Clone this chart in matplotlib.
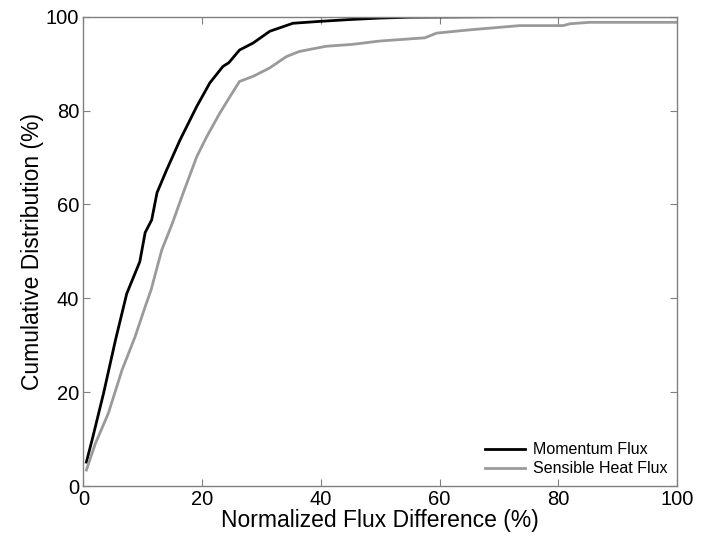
import matplotlib.pyplot as plt

# --- dados ---
momentum_x = [0.5, 1.5, 3.4, 5.4, 7.3, 9.5, 10.4, 11.5, 12.4, 14.0, 16.3, 19.1,
              21.3, 23.5, 24.5, 26.3, 28.6, 31.4, 35.3, 39.8, 45.0, 49.8, 55.0, 70.0, 100.0]
momentum_y = [5.1, 10.0, 19.8, 31.1, 41.0, 47.8, 54.0, 56.7, 62.5, 67.3, 73.8, 80.9,
              85.9, 89.4, 90.2, 92.9, 94.4, 96.9, 98.6, 99.0, 99.4, 99.7, 99.9, 100.0, 100.0]

sensible_x = [0.5, 2.0, 4.2, 6.5, 8.7, 10.4, 11.4, 13.2, 14.9, 16.8, 19.1, 20.8,
              23.0, 24.7, 26.3, 28.6, 31.4, 34.2, 36.4, 40.9, 45.3, 49.8, 57.5, 59.5,
              65.1, 73.5, 80.8, 82.0, 85.3, 100.0]
sensible_y = [3.4, 9.0, 15.5, 24.7, 31.8, 38.2, 41.8, 50.3, 55.7, 62.4, 70.2, 74.5,
              79.5, 83.0, 86.2, 87.3, 89.1, 91.5, 92.6, 93.7, 94.1, 94.8, 95.5, 96.5,
              97.2, 98.1, 98.1, 98.5, 98.8, 98.8]

ticks = [0, 20, 40, 60, 80, 100]
# ------------------------------

plt.rcParams['font.family'] = ['Liberation Sans', 'DejaVu Sans']

fig = plt.figure(figsize=(7.01, 5.42), dpi=100)
ax = fig.add_axes([0.119, 0.1033, 0.8468, 0.8659])

ax.plot(momentum_x, momentum_y, color='black', lw=2, label='Momentum Flux')
ax.plot(sensible_x, sensible_y, color='#9a9a9a', lw=2, label='Sensible Heat Flux')

ax.set_xlim(0, 100)
ax.set_ylim(0, 100)
ax.set_xticks(ticks)
ax.set_yticks(ticks)
ax.tick_params(direction='in', length=5, width=0.8, color='#808080',
               top=True, right=True, labelsize=14.5, pad=3)
for s in ax.spines.values():
    s.set_color('#808080')
    s.set_linewidth(1)

ax.set_xlabel('Normalized Flux Difference (%)', fontsize=16.5, labelpad=0)
ax.set_ylabel('Cumulative Distribution (%)', fontsize=16.5, labelpad=1)

ax.legend(loc='lower right', frameon=False, fontsize=11.5, handlelength=2.5,
          handletextpad=0.5, borderaxespad=0.2, labelspacing=0.25)

plt.savefig('out.png', dpi=100)
plt.close()
